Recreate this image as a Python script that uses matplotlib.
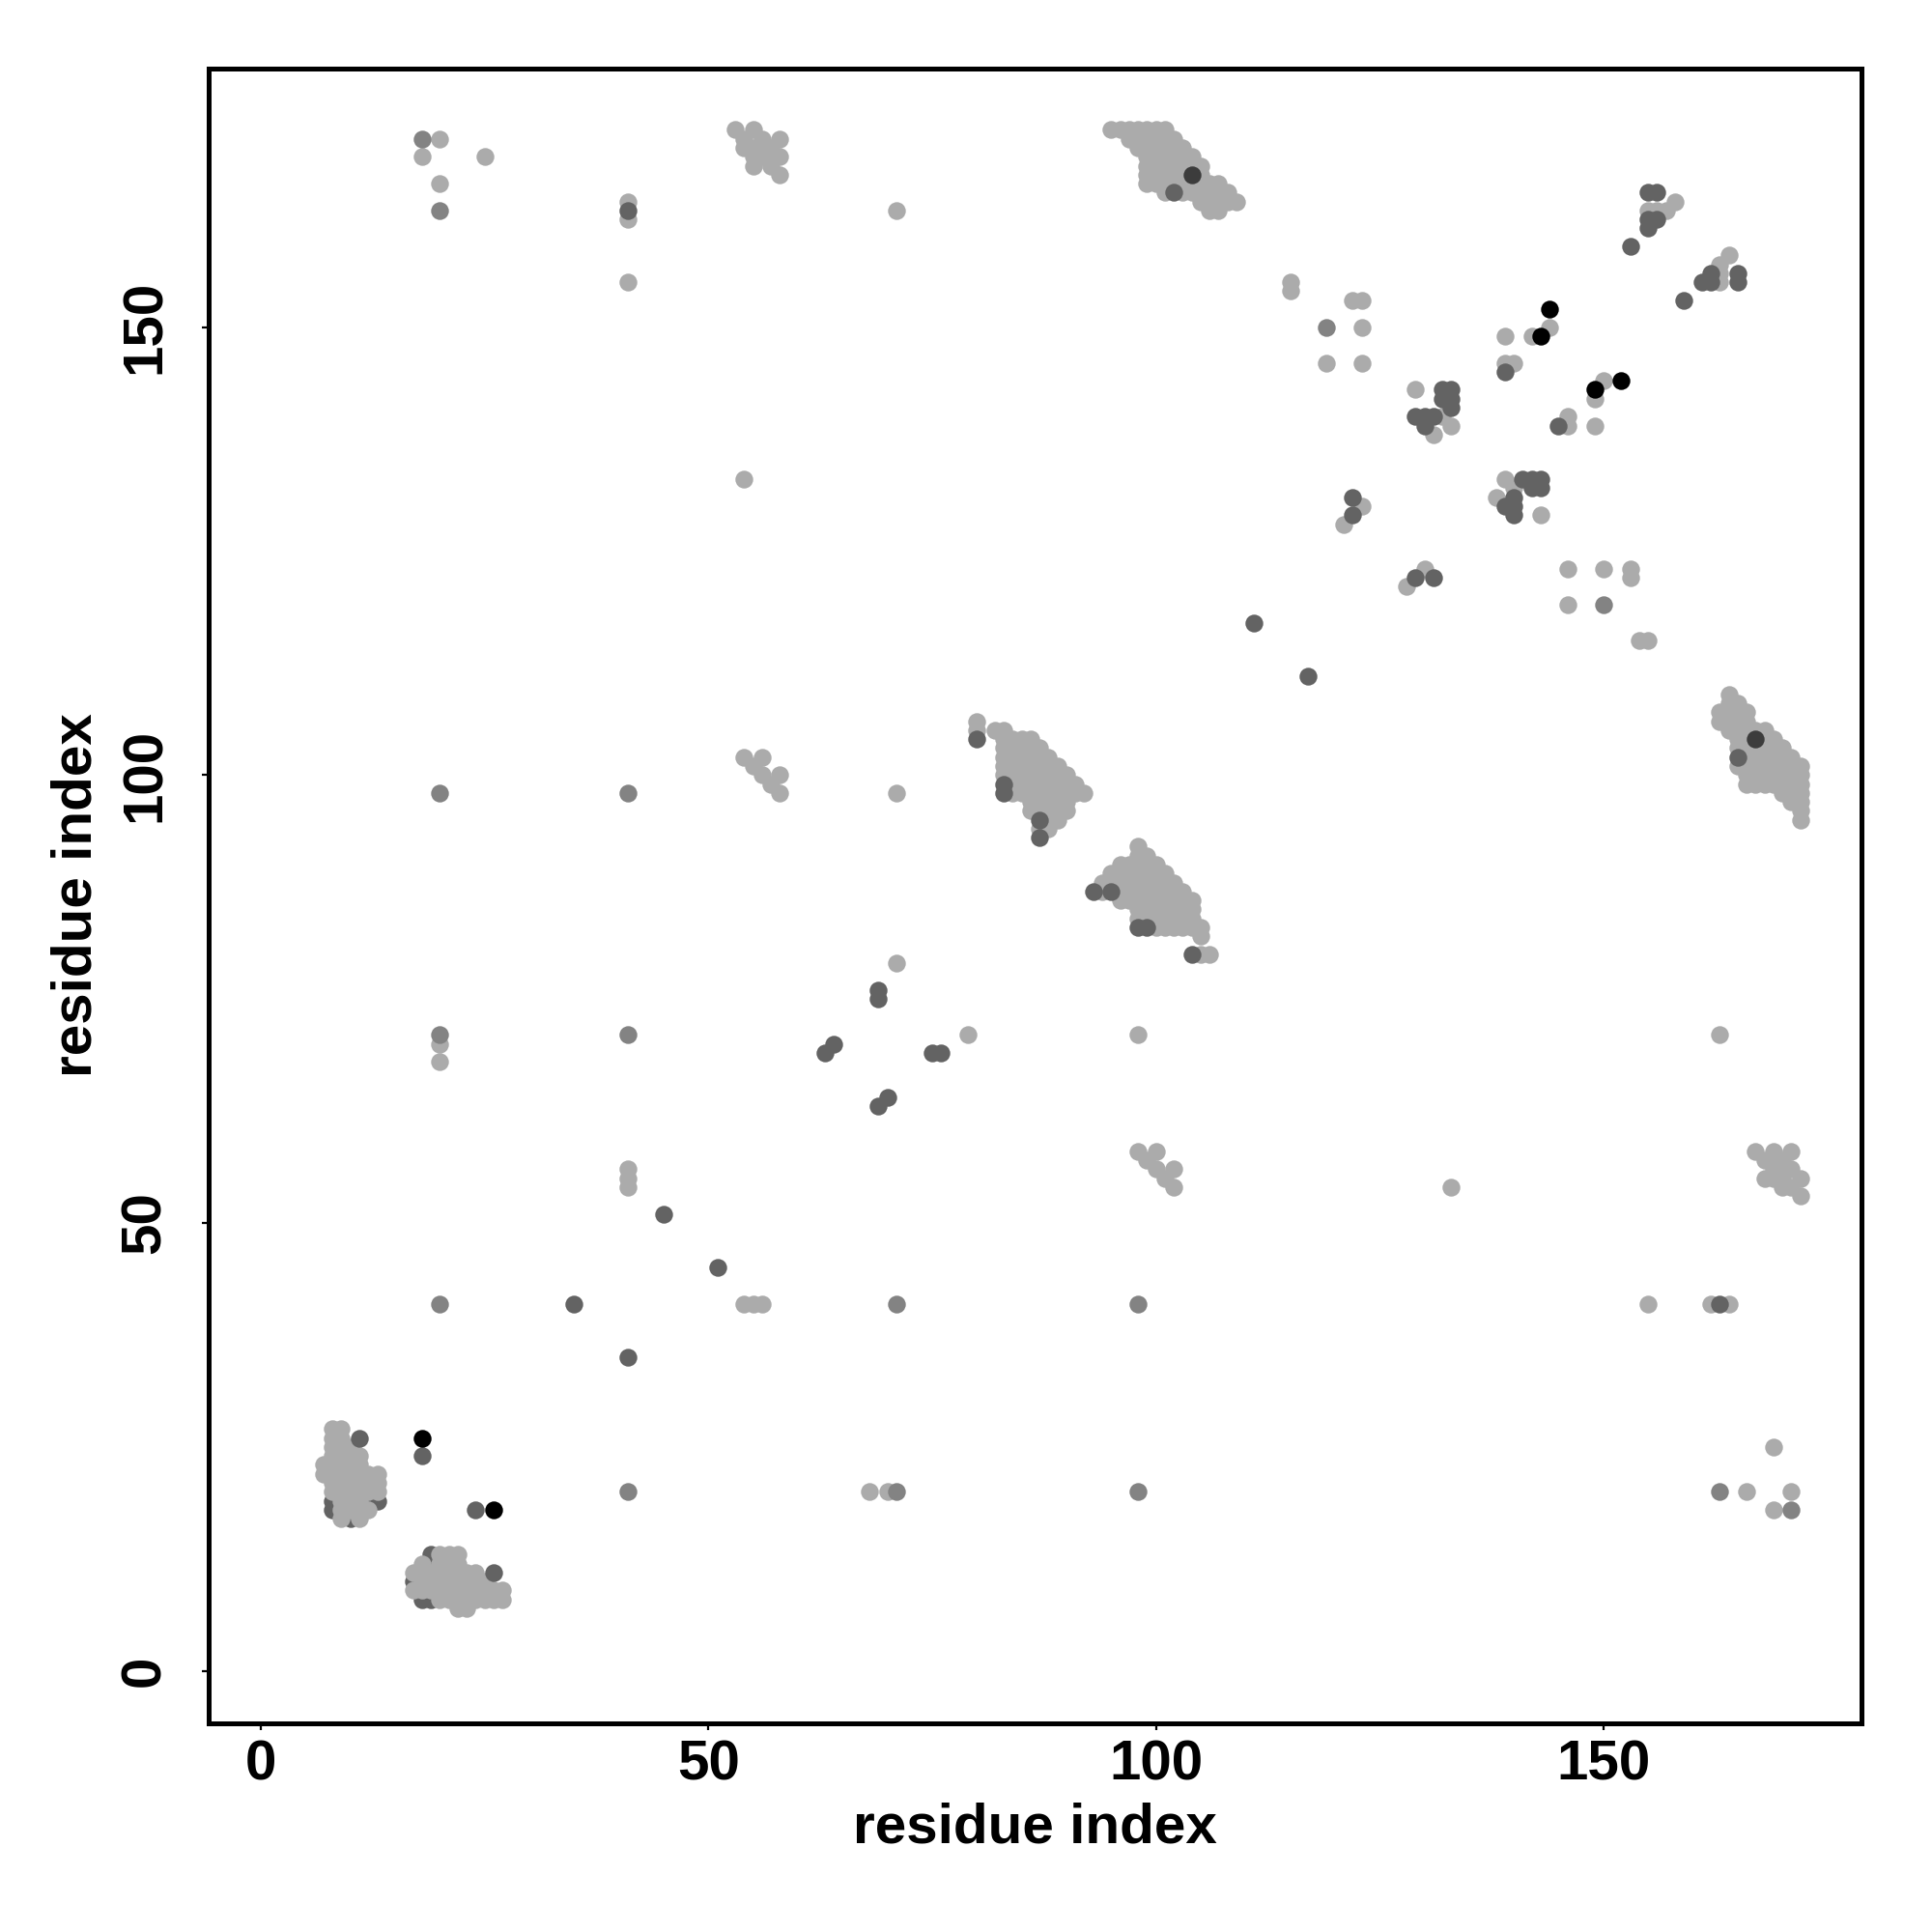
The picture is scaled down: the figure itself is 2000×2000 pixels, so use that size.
import matplotlib
matplotlib.use("Agg")
import matplotlib.pyplot as plt

# the map is symmetric, so every pair is drawn at (i, j) and at (j, i).

# light grey contacts, single points
light_i = [20, 18, 20, 25, 41, 41, 41, 71, 20, 20, 41, 41, 41, 71,
           54, 56, 55, 56, 57, 58, 58, 54, 115, 115, 123, 122, 123, 119, 123,
           123, 121, 129, 132, 133, 131, 139, 142, 144, 139, 140,
           155, 156, 157, 158, 71, 80, 80, 82]
light_j = [166, 169, 171, 169, 155, 162, 164, 163, 70, 68, 54, 55, 56, 98,
           102, 102, 101, 100, 99, 100, 98, 133, 154, 155, 150, 153, 153, 146, 146,
           130, 128, 143, 140, 139, 138, 149, 149, 150, 146, 146,
           163, 163, 163, 164, 79, 105, 106, 105]

# light grey blocks: residue i -> list of partner residues j
block_a = {7: [22, 23], 8: [20, 21, 22, 23, 24, 25, 26, 27],
           9: [17, 18, 19, 20, 21, 22, 23, 24, 25, 26, 27],
           10: [18, 19, 20, 21, 22, 23, 24, 25],
           11: [17, 18, 19, 20, 21, 22, 23, 24],
           12: [18, 20, 21, 22], 13: [20, 21, 22]}
block_b = {53: [172], 54: [170, 171], 55: [168, 169, 170, 172],
           56: [169, 170, 171], 57: [168, 169, 170], 58: [167, 169, 171]}
block_c = {83: [100, 101, 102, 103, 104, 105],
           84: [98, 99, 100, 101, 102, 103, 104],
           85: [98, 99, 100, 101, 102, 103, 104],
           86: [96, 97, 98, 99, 100, 101, 102, 103, 104],
           87: [94, 96, 97, 98, 99, 100, 101, 102, 103],
           88: [94, 95, 96, 97, 98, 99, 100, 101, 102],
           89: [95, 96, 97, 98, 99, 100, 101],
           90: [96, 97, 98, 99, 100], 91: [98, 99], 92: [98]}
block_d = {95: [172], 96: [172], 97: [171, 172], 98: [170, 171, 172],
           99: [166, 167, 168, 169, 170, 171, 172],
           100: [166, 167, 168, 169, 170, 171, 172],
           101: [165, 166, 167, 168, 169, 170, 171, 172],
           102: [166, 167, 168, 169, 170, 171],
           103: [165, 166, 167, 168, 169, 170],
           104: [165, 166, 168, 169], 105: [164, 165, 166, 167, 168],
           106: [163, 164, 165, 166], 107: [163, 164, 165, 166],
           108: [164, 165], 109: [164]}

# medium grey contacts
mid_i = [18, 20, 20, 20, 41, 20, 41, 119]
mid_j = [171, 163, 41, 71, 71, 98, 98, 150]

# dark grey contacts inside the first block (mostly covered by light ones)
dark_under_i = [8, 8, 10, 12, 13]
dark_under_j = [18, 19, 17, 19, 19]

# dark grey contacts
dark_i = [41, 35, 45, 63, 64, 69, 69, 111, 11, 18,
          80, 83, 83, 87, 87, 102, 122, 122,
          132, 133, 132, 133, 133, 129, 130, 131, 130, 139,
          153, 155, 155, 156, 155, 156]
dark_j = [163, 41, 51, 69, 70, 75, 76, 117, 26, 24,
          104, 98, 99, 93, 95, 165, 131, 129,
          143, 143, 142, 142, 141, 140, 140, 140, 139, 145,
          159, 161, 162, 162, 165, 165]

# darkest grey / black contacts
deep_i = [104]
deep_j = [167]
black_i = [18, 143, 144]
black_j = [26, 149, 152]

LIGHT = "#ababab"
MID = "#838383"
DARK = "#636363"
DEEP = "#3c3c3c"
BLACK = "#000000"


def expand(block):
    ii, jj = [], []
    for i, partners in block.items():
        for j in partners:
            ii.append(i)
            jj.append(j)
    return ii, jj


li, lj = list(light_i), list(light_j)
for blk in (block_a, block_b, block_c, block_d):
    bi, bj = expand(blk)
    li += bi
    lj += bj

plt.rcParams['font.family'] = ['Liberation Sans', 'DejaVu Sans']
plt.rcParams['font.weight'] = 'bold'

fig = plt.figure(figsize=(10, 10), dpi=200)
ax = fig.add_axes([0.108, 0.108, 0.8555, 0.8565])

groups = [(dark_under_i, dark_under_j, DARK, 2), (li, lj, LIGHT, 3),
          (mid_i, mid_j, MID, 3.5), (dark_i, dark_j, DARK, 4),
          (deep_i, deep_j, DEEP, 4.5), (black_i, black_j, BLACK, 5)]
for gi, gj, col, z in groups:
    ax.scatter(gi + gj, gj + gi, s=44, c=col, linewidths=0, zorder=z)

ax.set_xlim(-5.84, 178.84)
ax.set_ylim(-5.84, 178.84)
ax.set_xticks([0, 50, 100, 150])
ax.set_yticks([0, 50, 100, 150])
for sp in ax.spines.values():
    sp.set_linewidth(1.8)
ax.tick_params(axis='both', direction='out', length=2.4, width=0.8,
               labelsize=21)
ax.tick_params(axis='x', pad=3.5)
ax.tick_params(axis='y', pad=11.5)
for lab in ax.get_yticklabels():
    lab.set_rotation(90)
    lab.set_va('center')
for lab in ax.get_xticklabels() + ax.get_yticklabels():
    lab.set_fontweight('bold')

fig.text(1071 / 2000, 1 - 1892 / 2000, 'residue index', ha='center',
         va='center', fontsize=21, fontweight='bold')
fig.text(80 / 2000, 1 - 927 / 2000, 'residue index', ha='center',
         va='center', rotation=90, fontsize=21, fontweight='bold')

fig.savefig('out.png', dpi=200)
